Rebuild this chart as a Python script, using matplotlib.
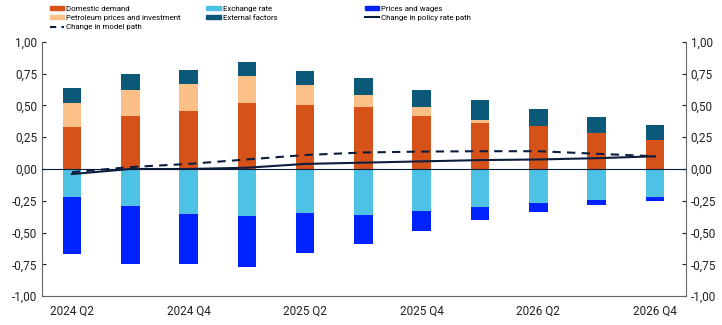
import numpy as np
import matplotlib.pyplot as plt
from matplotlib.patches import Patch
from matplotlib.lines import Line2D
from matplotlib.ticker import FuncFormatter

plt.rcParams['font.family'] = ['Roboto', 'DejaVu Sans']

quarters = ["2024 Q2", "2024 Q3", "2024 Q4", "2025 Q1", "2025 Q2", "2025 Q3",
            "2025 Q4", "2026 Q1", "2026 Q2", "2026 Q3", "2026 Q4"]

domestic = [0.33, 0.42, 0.46, 0.52, 0.50, 0.49, 0.42, 0.36, 0.34, 0.28, 0.225]
petroleum = [0.19, 0.20, 0.21, 0.21, 0.16, 0.09, 0.065, 0.027, 0.0, 0.0, 0.0]
external = [0.12, 0.13, 0.11, 0.11, 0.11, 0.14, 0.14, 0.153, 0.13, 0.13, 0.125]
exchange = [-0.22, -0.29, -0.355, -0.37, -0.35, -0.36, -0.33, -0.30, -0.27, -0.247, -0.224]
prices = [-0.45, -0.455, -0.395, -0.40, -0.31, -0.23, -0.16, -0.105, -0.07, -0.04, -0.026]

policy_path = [-0.04, 0.0, 0.0, 0.01, 0.04, 0.05, 0.06, 0.07, 0.075, 0.085, 0.10]
model_path = [-0.025, 0.015, 0.04, 0.075, 0.11, 0.13, 0.137, 0.14, 0.14, 0.12, 0.10]

c_dom = "#D65219"
c_pet = "#FBC088"
c_ext = "#0B5878"
c_exc = "#4EC2E4"
c_pri = "#0022FF"
c_line = "#0C1E3E"

fig = plt.figure(figsize=(7.22, 3.25), dpi=100)
ax = fig.add_axes([0.058, 0.089, 0.892, 0.782])

x = np.arange(len(quarters))
w = 0.32
dom = np.array(domestic)
pet = np.array(petroleum)
ext = np.array(external)
exc = np.array(exchange)
pri = np.array(prices)

ax.bar(x, dom, w, color=c_dom, zorder=2)
ax.bar(x, pet, w, bottom=dom, color=c_pet, zorder=2)
ax.bar(x, ext, w, bottom=dom + pet, color=c_ext, zorder=2)
ax.bar(x, exc, w, color=c_exc, zorder=2)
ax.bar(x, pri, w, bottom=exc, color=c_pri, zorder=2)

ax.axhline(0, color=c_line, lw=0.8, zorder=3)
ax.plot(x, policy_path, color=c_line, lw=1.5, zorder=4)
ax.plot(x, model_path, color=c_line, lw=1.5, ls=(0, (4, 3)), zorder=4)

ax.set_xlim(-0.515, 10.53)
ax.set_ylim(-1, 1)
ax.set_xticks(x[::2])
ax.set_xticklabels(quarters[::2])
ax.set_yticks(np.arange(-1, 1.01, 0.25))
fmt = FuncFormatter(lambda v, p: f"{v:.2f}".replace(".", ",").replace("-0,00", "0,00"))
ax.yaxis.set_major_formatter(fmt)
ax.tick_params(axis="y", which="both", labelright=True, right=True, length=3,
               labelsize=8.5, colors="#222222", direction="in")
ax.tick_params(axis="x", length=0, labelsize=8.5, colors="#222222", pad=6)
for s in ["left", "right", "bottom"]:
    ax.spines[s].set_color("#666666")
    ax.spines[s].set_linewidth(0.8)
ax.spines["top"].set_visible(False)

kw = dict(loc="upper left", frameon=False, fontsize=5.7, handlelength=1.8,
          handleheight=0.55, handletextpad=0.25, labelspacing=0.38,
          borderpad=0, borderaxespad=0)
col1 = [Patch(color=c_dom), Patch(color=c_pet),
        Line2D([], [], color=c_line, lw=1.5, ls=(0, (3, 2.5)))]
fig.legend(col1, ["Domestic demand", "Petroleum prices and investment",
                  "Change in model path"], bbox_to_anchor=(0.069, 0.983), **kw)
col2 = [Patch(color=c_exc), Patch(color=c_ext)]
fig.legend(col2, ["Exchange rate", "External factors"],
           bbox_to_anchor=(0.286, 0.983), **kw)
col3 = [Patch(color=c_pri), Line2D([], [], color=c_line, lw=1.5)]
fig.legend(col3, ["Prices and wages", "Change in policy rate path"],
           bbox_to_anchor=(0.505, 0.983), **kw)

fig.savefig("out.png", dpi=100)
